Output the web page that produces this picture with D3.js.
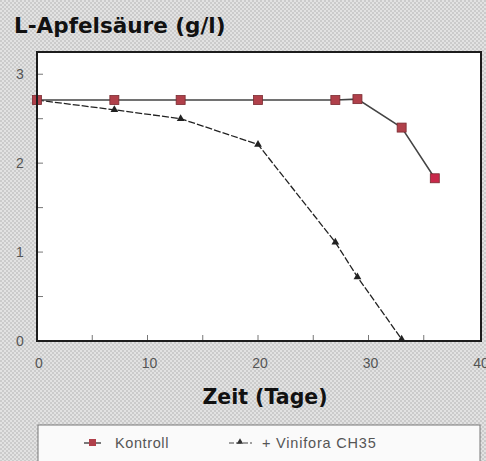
<!DOCTYPE html>
<html>
<head>
<meta charset="utf-8">
<script src="https://cdn.jsdelivr.net/npm/d3@7"></script>
<style>
  body { margin: 0; padding: 0; }
  svg { display: block; }
</style>
</head>
<body>
<div id="chart"></div>
<script>
const days = [0, 7, 13, 20, 27, 29, 33, 36];
const kontroll = [2.71, 2.71, 2.71, 2.71, 2.71, 2.72, 2.40, 1.83];
const viniDays = [0, 7, 13, 20, 27, 29, 33];
const vinifora = [2.71, 2.60, 2.50, 2.21, 1.11, 0.72, 0.02];
const xTicks = [0, 10, 20, 30, 40];
const yTicks = [0, 1, 2, 3];
const seriesNames = ["Kontroll", "+ Vinifora CH35"];

const W = 486, H = 461;
const margin = { top: 52, right: 5, bottom: 120, left: 37 };
const width = W - margin.left - margin.right;
const height = H - margin.top - margin.bottom;

const svg = d3.select("#chart").append("svg")
    .attr("width", W)
    .attr("height", H);

// halftone-ish paper background
const defs = svg.append("defs");
const pat = defs.append("pattern")
    .attr("id", "dots")
    .attr("width", 4).attr("height", 4)
    .attr("patternUnits", "userSpaceOnUse");
pat.append("rect").attr("width", 4).attr("height", 4).attr("fill", "#e2e2e2");
pat.append("rect").attr("width", 2).attr("height", 2).attr("fill", "#cbcbcb");
pat.append("rect").attr("x", 2).attr("y", 2).attr("width", 2).attr("height", 2).attr("fill", "#cbcbcb");

svg.append("rect").attr("width", W).attr("height", H).attr("fill", "url(#dots)");

const heavyFont = "DejaVu Sans, Verdana, sans-serif";

// title
svg.append("text")
    .attr("x", 14)
    .attr("y", 33)
    .style("font-family", heavyFont)
    .style("font-size", "21.5px")
    .style("font-weight", "bold")
    .attr("fill", "#111")
    .text("L-Apfelsäure (g/l)");

const g = svg.append("g")
    .attr("transform", `translate(${margin.left},${margin.top})`);

const x = d3.scaleLinear().domain([0, 40]).range([0, width - 2]);
const y = d3.scaleLinear().domain([0, 3.25]).range([height, 0]);

// plot area
g.append("rect")
    .attr("width", width)
    .attr("height", height)
    .attr("fill", "#fff");

// inside ticks
g.selectAll(".ytick").data(d3.range(0.5, 3.01, 0.5)).enter().append("line")
    .attr("x1", 0).attr("x2", 6)
    .attr("y1", d => y(d)).attr("y2", d => y(d))
    .attr("stroke", "#777").attr("stroke-width", 1);
g.selectAll(".xtick").data(d3.range(5, 40, 5)).enter().append("line")
    .attr("x1", d => x(d)).attr("x2", d => x(d))
    .attr("y1", height).attr("y2", height - 6)
    .attr("stroke", "#777").attr("stroke-width", 1);

// tick labels
const tickFont = "Liberation Sans, Arial, sans-serif";
svg.selectAll(".ylab").data(yTicks).enter().append("text")
    .attr("x", 20)
    .attr("y", d => margin.top + y(d) + 5)
    .attr("text-anchor", "middle")
    .style("font-family", tickFont)
    .style("font-size", "14px")
    .attr("fill", "#555")
    .text(d => d);
svg.selectAll(".xlab").data(xTicks).enter().append("text")
    .attr("x", d => margin.left + x(d) + 2)
    .attr("y", margin.top + height + 27)
    .attr("text-anchor", "middle")
    .style("font-family", tickFont)
    .style("font-size", "14px")
    .attr("fill", "#555")
    .text(d => d);

// axis title
svg.append("text")
    .attr("x", 265)
    .attr("y", 404)
    .attr("text-anchor", "middle")
    .style("font-family", heavyFont)
    .style("font-size", "20.5px")
    .style("font-weight", "bold")
    .attr("fill", "#111")
    .text("Zeit (Tage)");

// lines
const line = d3.line().x(d => x(d[0])).y(d => y(d[1]));
const kData = days.map((d, i) => [d, kontroll[i]]);
const vData = viniDays.map((d, i) => [d, vinifora[i]]);

g.append("path").datum(vData)
    .attr("d", line)
    .attr("fill", "none")
    .attr("stroke", "#222")
    .attr("stroke-width", 1.3)
    .attr("stroke-dasharray", "7,2");

g.append("path").datum(kData)
    .attr("d", line)
    .attr("fill", "none")
    .attr("stroke", "#444")
    .attr("stroke-width", 1.5);

const tri = d3.symbol().type(d3.symbolTriangle).size(26);
g.selectAll(".tri").data(vData).enter().append("path")
    .attr("d", tri)
    .attr("transform", d => `translate(${x(d[0])},${y(d[1])})`)
    .attr("fill", "#222");

g.selectAll(".sq").data(kData).enter().append("rect")
    .attr("x", d => x(d[0]) - 4.5)
    .attr("y", d => y(d[1]) - 4.5)
    .attr("width", 9).attr("height", 9)
    .attr("fill", (d, i) => i === kData.length - 1 ? "#c8284a" : "#b0404a")
    .attr("stroke", "#7a2a30")
    .attr("stroke-width", 0.8);

// frame
g.append("rect")
    .attr("width", width)
    .attr("height", height)
    .attr("fill", "none")
    .attr("stroke", "#1c1c1c")
    .attr("stroke-width", 2);

// legend
const lg = svg.append("g");
lg.append("rect")
    .attr("x", 38).attr("y", 425)
    .attr("width", 442).attr("height", 50)
    .attr("fill", "#fafafa")
    .attr("stroke", "#777")
    .attr("stroke-width", 1);

lg.append("line").attr("x1", 84).attr("x2", 101).attr("y1", 443).attr("y2", 443)
    .attr("stroke", "#333").attr("stroke-width", 1.3);
lg.append("rect").attr("x", 89).attr("y", 439).attr("width", 7).attr("height", 7)
    .attr("fill", "#b0404a");
lg.append("text").attr("x", 115).attr("y", 448)
    .style("font-family", tickFont).style("font-size", "14.5px")
    .style("letter-spacing", "0.6px").attr("fill", "#555")
    .text(seriesNames[0]);

lg.append("line").attr("x1", 229).attr("x2", 252).attr("y1", 443).attr("y2", 443)
    .attr("stroke", "#444").attr("stroke-width", 1.2).attr("stroke-dasharray", "5,2");
lg.append("path").attr("d", d3.symbol().type(d3.symbolTriangle).size(18))
    .attr("transform", "translate(240,442)").attr("fill", "#333");
lg.append("text").attr("x", 262).attr("y", 448)
    .style("font-family", tickFont).style("font-size", "14.5px")
    .style("letter-spacing", "0.8px").attr("fill", "#555")
    .text(seriesNames[1]);
</script>
</body>
</html>
